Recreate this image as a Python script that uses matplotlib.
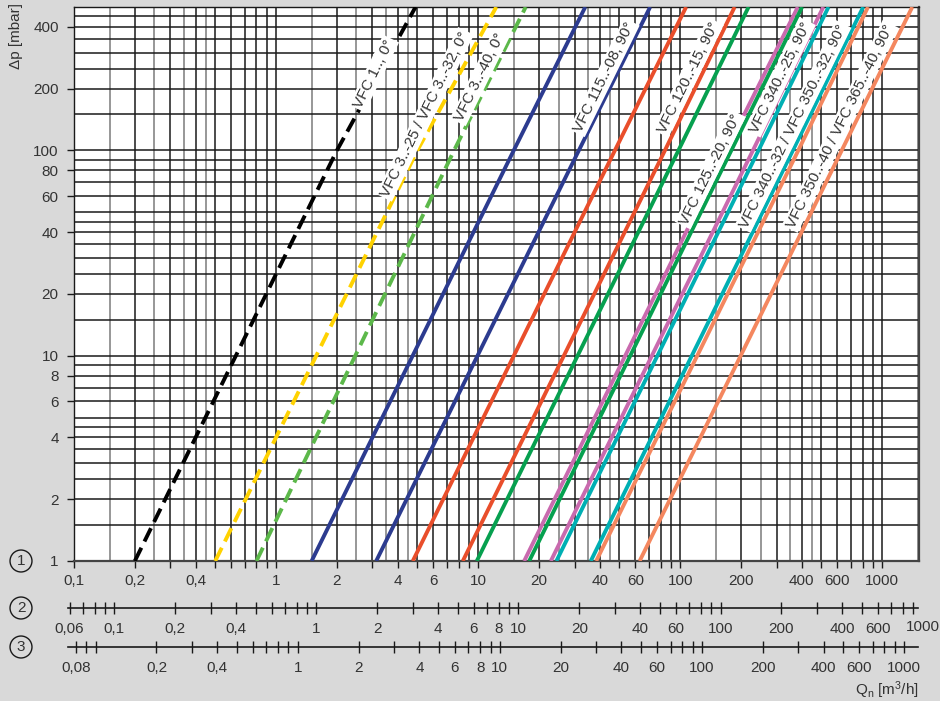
import numpy as np
import matplotlib.pyplot as plt

plt.rcParams['font.family'] = ['Liberation Sans', 'DejaVu Sans']
plt.rcParams['mathtext.fontset'] = 'custom'
plt.rcParams['mathtext.rm'] = 'Liberation Sans'
plt.rcParams['mathtext.it'] = 'Liberation Sans:italic'

# Kennlinien: Qn [m3/h] bei dp = 1, 100, 500 mbar
dp_pts = [1, 100, 500]
q_vfc1_0 = [0.2, 2.0, 4.9]
q_vfc3_32_0 = [0.5, 5.0, 12.3]
q_vfc3_40_0 = [0.8, 7.6, 17.2]
q_blue_a = [1.5, 15, 33.9]
q_vfc115_90 = [3.13, 31.5, 71]
q_red_a = [4.75, 47.5, 107]
q_vfc120_90 = [8.4, 84, 186]
q_vfc125_90 = [9.85, 98, 218]
q_pink_a = [16.9, 169, 382]
q_green_b = [17.9, 179, 401]
q_vfc340_25_90 = [22.9, 229, 511]
q_teal_a = [24.4, 244, 542]
q_vfc350_32_90 = [36.1, 361, 805]
q_salmon_a = [38.4, 384, 850]
q_vfc365_40_90 = [63, 630, 1408]

curves = [q_vfc1_0, q_vfc3_32_0, q_vfc3_40_0, q_blue_a, q_vfc115_90, q_red_a,
          q_vfc120_90, q_vfc125_90, q_pink_a, q_green_b, q_vfc340_25_90,
          q_teal_a, q_vfc350_32_90, q_salmon_a, q_vfc365_40_90]
colors = ['#000000', '#ffd200', '#5cb84a', '#2c3b8f', '#2c3b8f', '#e94e2b',
          '#e94e2b', '#06a04f', '#c96aae', '#06a04f', '#c96aae',
          '#00afb3', '#00afb3', '#f4875f', '#f4875f']
dashed = [True, True, True] + [False] * 12

# Beschriftungen der Kennlinien
label_texts = ['VFC 1.., 0°', 'VFC 3..-25 / VFC 3..-32, 0°', 'VFC 3..-40, 0°',
               'VFC 115..-08, 90°', 'VFC 120..-15, 90°', 'VFC 125..-20, 90°',
               'VFC 340..-25, 90°', 'VFC 340..-32 / VFC 350..-32, 90°',
               'VFC 350..-40 / VFC 365..-40, 90°']
label_q = [3.05, 5.46, 10.2, 42.1, 109.5, 140.8, 312.6, 362, 619]
label_dp = [237, 150, 227, 227, 227, 81, 227, 131, 131]

# Achsen
y_ticks = [1, 2, 4, 6, 8, 10, 20, 40, 60, 80, 100, 200, 400]
x1_ticks = [s * d for d in (0.1, 1, 10, 100) for s in range(1, 10)] + [1000]
x1_labels = [0.1, 0.2, 0.4, 0.6, 1, 2, 4, 6, 10, 20, 40, 60, 100, 200, 400, 600, 1000]
x2_ticks = [0.06, 0.07, 0.08, 0.09] + [s * d for d in (0.1, 1, 10, 100) for s in range(1, 10)]
x2_labels = [0.06, 0.1, 0.2, 0.4, 0.6, 1, 2, 4, 6, 8, 10, 20, 40, 60, 100, 200, 400, 600]
x3_ticks = [0.08, 0.09] + [s * d for d in (0.1, 1, 10, 100) for s in range(1, 10)] + [1000]
x3_labels = [0.08, 0.2, 0.4, 0.6, 1, 2, 4, 6, 8, 10, 20, 40, 60, 100, 200, 400, 600, 1000]
factor2 = 1.584   # Skala 2 gegenueber Skala 1
factor3 = 1.28    # Skala 3 gegenueber Skala 1
grid_steps = [1, 1.5, 2, 2.5, 3, 3.5, 4, 4.5, 5, 6, 7, 8, 9]

BG = '#d9d9d9'
TXT = '#333333'
W, H = 940, 701
FS = 11


def frac(x0, y0, x1, y1):
    # Pixelrechteck -> Figure-Koordinaten
    return [x0 / W, 1 - y1 / H, (x1 - x0) / W, (y1 - y0) / H]


def fmt(v):
    return f"{v:g}".replace('.', ',')


fig = plt.figure(figsize=(W / 100, H / 100), dpi=100, facecolor=BG)
ax = fig.add_axes(frac(74, 7, 919, 561))
ax.set_facecolor('white')
ax.set_xscale('log')
ax.set_yscale('log')
XMIN, XMAX = 0.1, 1520
ax.set_xlim(XMIN, XMAX)
ax.set_ylim(1, 500)

# Gitter
for d in (0.1, 1, 10, 100, 1000):
    for s in grid_steps:
        v = s * d
        if v <= XMIN or v >= XMAX:
            continue
        half = s in (1.5, 2.5, 3.5, 4.5)
        ax.axvline(v, color='#7a7a7a' if half else '#1a1a1a', lw=1.1, zorder=1)
for d in (1, 10, 100):
    for s in grid_steps:
        v = s * d
        if v <= 1:
            continue
        ax.axhline(v, color='#1a1a1a', lw=1.1, zorder=1)

for side in ('left', 'top'):
    ax.spines[side].set_color('#1a1a1a')
    ax.spines[side].set_linewidth(1.0)
for side in ('bottom', 'right'):
    ax.spines[side].set_color('#444444')
    ax.spines[side].set_linewidth(1.6)

ax.xaxis.set_minor_locator(plt.NullLocator())
ax.yaxis.set_minor_locator(plt.NullLocator())
ax.set_xticks(x1_ticks, [fmt(v) if v in x1_labels else '' for v in x1_ticks])
ax.set_yticks(y_ticks, [fmt(v) for v in y_ticks])
ax.tick_params(axis='x', direction='out', length=5, width=1, color='#1a1a1a',
               pad=4.5, labelsize=FS, labelcolor=TXT)
ax.tick_params(axis='y', direction='out', length=5, width=1, color='#1a1a1a',
               pad=6, labelsize=FS, labelcolor=TXT)

# Kennlinien
for q, col, dsh in zip(curves, colors, dashed):
    ls = (0, (3.8, 1.8)) if dsh else '-'
    ax.plot(q, dp_pts, color=col, lw=2.8, ls=ls, solid_capstyle='butt',
            dash_capstyle='butt', zorder=3)

p1 = ax.transData.transform((1, 1))
p2 = ax.transData.transform((10, 100))
angle = np.degrees(np.arctan2(p2[1] - p1[1], p2[0] - p1[0]))
for txt, q, dp in zip(label_texts, label_q, label_dp):
    ax.text(q, dp, txt, rotation=angle, rotation_mode='anchor', ha='center',
            va='center', fontsize=FS, color=TXT, zorder=4,
            bbox=dict(boxstyle='square,pad=0.12', fc='white', ec='none'))

# Achsbeschriftungen
fig.text(16 / W, 1 - 36 / H, 'Δp [mbar]', rotation=90, ha='center', va='center',
         fontsize=FS, color=TXT)
fig.text(919 / W, 1 - 690 / H, r'Q$_\mathrm{n}$ [m$^\mathrm{3}$/h]', ha='right',
         va='center', fontsize=FS, color=TXT)

# Zusaetzliche Skalen 2 und 3
lpp = np.log10(XMAX / XMIN) / (919 - 74)  # Dekaden pro Pixel


def q_at_px(px):
    return XMIN * 10 ** ((px - 74) * lpp)


def gas_axis(y_px, factor, ticks, labels, extra=None):
    a = fig.add_axes(frac(68, y_px - 1, 940, y_px))
    a.patch.set_visible(False)
    a.set_xscale('log')
    a.set_xlim(q_at_px(68) / factor, q_at_px(940) / factor)
    for side in ('top', 'left', 'right'):
        a.spines[side].set_visible(False)
    a.spines['bottom'].set_bounds(q_at_px(68) / factor, q_at_px(918) / factor)
    a.spines['bottom'].set_color('#1a1a1a')
    a.spines['bottom'].set_linewidth(1.2)
    a.set_yticks([])
    a.xaxis.set_minor_locator(plt.NullLocator())
    a.set_xticks(ticks, [fmt(v) if v in labels else '' for v in ticks])
    a.tick_params(axis='x', direction='inout', length=9, width=1, color='#1a1a1a',
                  pad=5.5, labelsize=FS, labelcolor=TXT)
    if extra:
        a.set_xticks(extra, [fmt(v) for v in extra], minor=True)
        a.tick_params(axis='x', which='minor', length=0, pad=5.5 + 4.5 * 0.72,
                      labelsize=FS, labelcolor=TXT)
    return a


gas_axis(608, factor2, x2_ticks, x2_labels, extra=[1000])
gas_axis(647, factor3, x3_ticks, x3_labels)

for num, y_px in zip(['1', '2', '3'], [561, 608, 647]):
    fig.text(21 / W, 1 - y_px / H, num, ha='center', va='center', fontsize=FS,
             color=TXT, bbox=dict(boxstyle='circle,pad=0.26', fc='none',
                                  ec='#1a1a1a', lw=1.0))

fig.savefig('out.png', dpi=100, facecolor=BG)
